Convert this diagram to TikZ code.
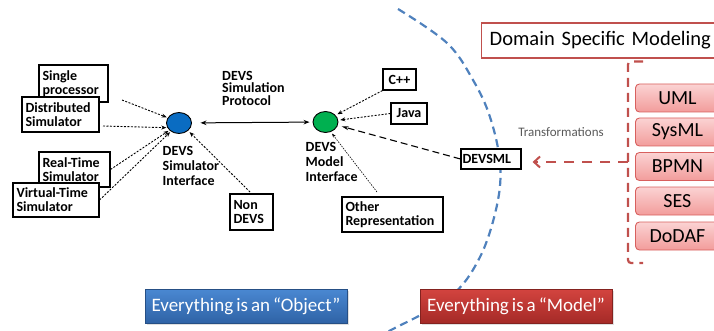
\documentclass[tikz,border=0pt]{standalone}
\usepackage{fontspec}
\setmainfont{Carlito}
\newfontfamily\tightfont[WordSpace=0.7]{Carlito}
\usetikzlibrary{shapes.geometric,arrows.meta,calc,shadows}
\definecolor{arcblue}{HTML}{4F81BD}
\definecolor{dsred}{HTML}{C0504D}
\definecolor{simblue}{HTML}{0A6CC2}
\definecolor{modgreen}{HTML}{00B050}
\definecolor{pinktop}{HTML}{FBD3D3}
\definecolor{pinkbot}{HTML}{F29C9B}
\definecolor{pinkline}{HTML}{D8605E}
\definecolor{objtop}{HTML}{4A88D2}
\definecolor{objbot}{HTML}{2F63A6}
\definecolor{modtop}{HTML}{D3443F}
\definecolor{modbot}{HTML}{A52A27}
\definecolor{trgrey}{HTML}{595959}
\begin{document}
\begin{tikzpicture}[x=1pt,y=-1pt,
  lbox/.style={draw=black, line width=1.1pt, fill=white, align=left,
    font=\fontsize{14}{14}\selectfont\bfseries, inner xsep=3.5pt, inner ysep=1pt},
  lbl/.style={align=left, font=\fontsize{14}{15}\selectfont\bfseries, inner sep=0pt},
  dotarrow/.style={line width=0.9pt, dash pattern=on 2pt off 1.5pt,
    -{Stealth[length=5pt,width=4pt]}},
  iface/.style={ellipse, draw=black, line width=0.9pt, minimum width=25pt, minimum height=21pt, inner sep=0pt},
  pinkbox/.style={draw=pinkline, line width=0.9pt, rounded corners=4pt, top color=pinktop,
    bottom color=pinkbot, minimum width=84pt, minimum height=28pt, anchor=west,
    font=\fontsize{20}{20}\selectfont, inner sep=0pt},
  bigbox/.style={minimum height=34pt, text=white, font=\tightfont\fontsize{19}{19}\selectfont, inner sep=0pt,
    drop shadow={opacity=0.25, shadow xshift=1.5pt, shadow yshift=-1.5pt}},
  reddash/.style={draw=dsred, line width=2.2pt, dash pattern=on 9pt off 6pt},
]
\useasboundingbox (0,0) rectangle (714,331);
\clip (0,0) rectangle (714,331);

% blue dashed arc
\draw[arcblue, line width=2.2pt, dash pattern=on 8pt off 5pt]
  plot[smooth, tension=0.6] coordinates {(398,9) (447,43) (473,80) (490,117) (500,163) (497,205) (480,257) (450,297) (393,329) (372,338)};

% interfaces
\node[iface, fill=simblue] (sim) at (179,123) {};
\node[iface, fill=modgreen] (mod) at (325.5,122) {};
\node[lbl, anchor=north west] (simlbl) at (162.5,146) {DEVS\\Simulator\\Interface};
\node[lbl, anchor=north west] (modlbl) at (305.5,142) {DEVS\\Model\\Interface};
\node[lbl, anchor=north west, font=\fontsize{14}{12.5}\selectfont\bfseries] (protlbl) at (222,71) {DEVS\\Simulation\\Protocol};

\draw[line width=1pt, {Stealth[length=6pt,width=4.5pt]}-{Stealth[length=6pt,width=4.5pt]},
  shorten <=8.5pt, shorten >=3pt] (sim) -- (mod);

% left boxes
\node[lbox, text width=62pt, minimum height=37pt] (single) at (73.5,83.5) {Single\\processor};
\node[lbox, text width=70pt, minimum height=35pt] (dist) at (60.5,114.5) {Distributed\\Simulator};
\node[lbox, text width=64pt, minimum height=35pt] (rt) at (74.5,169.5) {Real-Time\\Simulator};
\node[lbox, text width=79pt, minimum height=34pt] (vt) at (56,200) {Virtual-Time\\Simulator};
\node[lbox, text width=36pt, minimum height=36pt] (nondevs) at (251.5,212) {Non\\DEVS};

\coordinate (singletail) at (122,100);
\coordinate (disttail) at (103,126);
\draw[dotarrow, shorten >=1pt] (singletail) -- (sim.155);
\draw[dotarrow, shorten >=1pt] (disttail) -- (sim.202);
\draw[dotarrow, shorten >=1pt] (rt.east) -- (sim.217);
\draw[dotarrow, shorten >=1pt] (vt.east) -- (sim.226);
\draw[dotarrow, shorten <=2pt, shorten >=2pt] (nondevs.north) -- (sim.320);

% right small boxes
\node[lbox, minimum width=33pt, minimum height=21pt, align=center, inner xsep=1pt] (cpp) at (399.5,79.5) {C++};
\node[lbox, minimum width=36pt, minimum height=21pt, align=center, inner xsep=1pt] (java) at (409,113.5) {Java};
\node[lbox, text width=57pt, minimum height=20pt, inner xsep=1.5pt] (devsml) at (491,159) {DEVSML};
\node[lbox, text width=94pt, minimum height=35pt] (other) at (392.5,214.5) {Other\\Representation};

\draw[dotarrow, shorten >=2pt] (cpp.south west) -- (mod.34);
\draw[dotarrow, shorten >=2pt] (java.west) -- (mod.8);
\draw[line width=1.1pt, dash pattern=on 7pt off 4pt, -{Stealth[length=7pt,width=4pt]}, shorten >=4pt]
  (devsml.west) -- (mod.345);
\coordinate (othertail) at (377,192);
\draw[line width=0.6pt, dash pattern=on 1.5pt off 1.2pt, -{Stealth[length=4pt,width=3pt]}, shorten >=2pt]
  (othertail) -- (mod.298);

% domain specific modeling
\node[draw=dsred, line width=1.4pt, fill=white, anchor=west, minimum width=245pt, minimum height=35pt,
  text width=229pt, align=left, inner xsep=8pt, font=\tightfont\fontsize{20.5}{20.5}\selectfont] (dsm) at (481,40.5)
  {Domain Specific Modeling};

\node[pinkbox] (uml) at (635,98) {UML};
\node[pinkbox] (sysml) at (635,132) {SysML};
\node[pinkbox] (bpmn) at (635,166.5) {BPMN};
\node[pinkbox] (ses) at (635,201) {SES};
\node[pinkbox] (dodaf) at (635,236) {DoDAF};

\draw[reddash, rounded corners=3pt] (643,61.5) -- (628,61.5) -- (628,263) -- (643,263);
\coordinate (brk) at (628,162);
\draw[reddash, dash pattern=on 10pt off 8pt, -{Straight Barb[length=6pt,width=11pt,line width=2pt]},
  shorten >=11pt] (brk) -- (brk -| devsml.east);

\node[text=trgrey, font=\fontsize{13}{13}\selectfont] (transf) at (561,132.5) {Transformations};

% bottom banners
\node[bigbox, draw=objbot!80!black, line width=0.5pt, top color=objtop, bottom color=objbot,
  minimum width=202pt] (obj) at (246,306) {Everything is an “Object”};
\node[bigbox, draw=modbot!80!black, line width=0.5pt, top color=modtop, bottom color=modbot,
  minimum width=192pt] (model) at (516,306) {Everything is a “Model”};
\end{tikzpicture}
\end{document}
